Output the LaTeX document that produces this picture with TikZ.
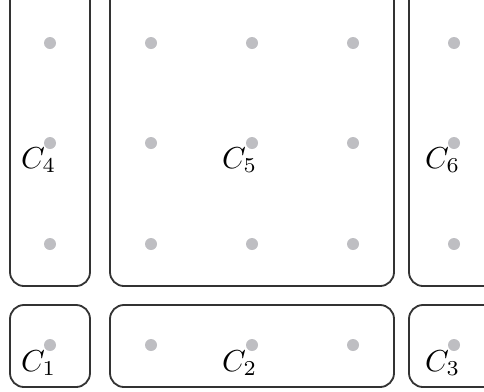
\documentclass[tikz,border=0pt]{standalone}
\usetikzlibrary{calc}
\definecolor{dotgray}{RGB}{190,190,194}
\tikzset{
  cell/.style={draw=black!80, line width=0.6pt, rounded corners=4.6pt},
  gdot/.style={fill=dotgray, draw=none},
  lab/.style={anchor=base west, inner sep=0pt, outer sep=0pt}
}
\begin{document}
\begin{tikzpicture}[x=0.33pt, y=-0.33pt]
\useasboundingbox (0,0) rectangle (484,391);
\clip (0,0) rectangle (484,391);
% cells
\draw[cell] (10,-30) rectangle (90,286);
\draw[cell] (110,-30) rectangle (394,286);
\draw[cell] (409,-30) rectangle (540,286);
\draw[cell] (10,305) rectangle (90,387);
\draw[cell] (110,305) rectangle (394,387);
\draw[cell] (409,305) rectangle (540,387);
% dots
\foreach \x in {50,151,252,353,454}
  \foreach \y in {43,143,244,345}
    \fill[gdot] (\x,\y) circle[radius=6];
% labels
\node[lab] (c4) at (21,168) {$C_4$};
\node[lab] (c5) at (222,168) {$C_5$};
\node[lab] (c6) at (425,168) {$C_6$};
\node[lab] (c1) at (21,371) {$C_1$};
\node[lab] (c2) at (222,371) {$C_2$};
\node[lab] (c3) at (425,371) {$C_3$};
\end{tikzpicture}
\end{document}
